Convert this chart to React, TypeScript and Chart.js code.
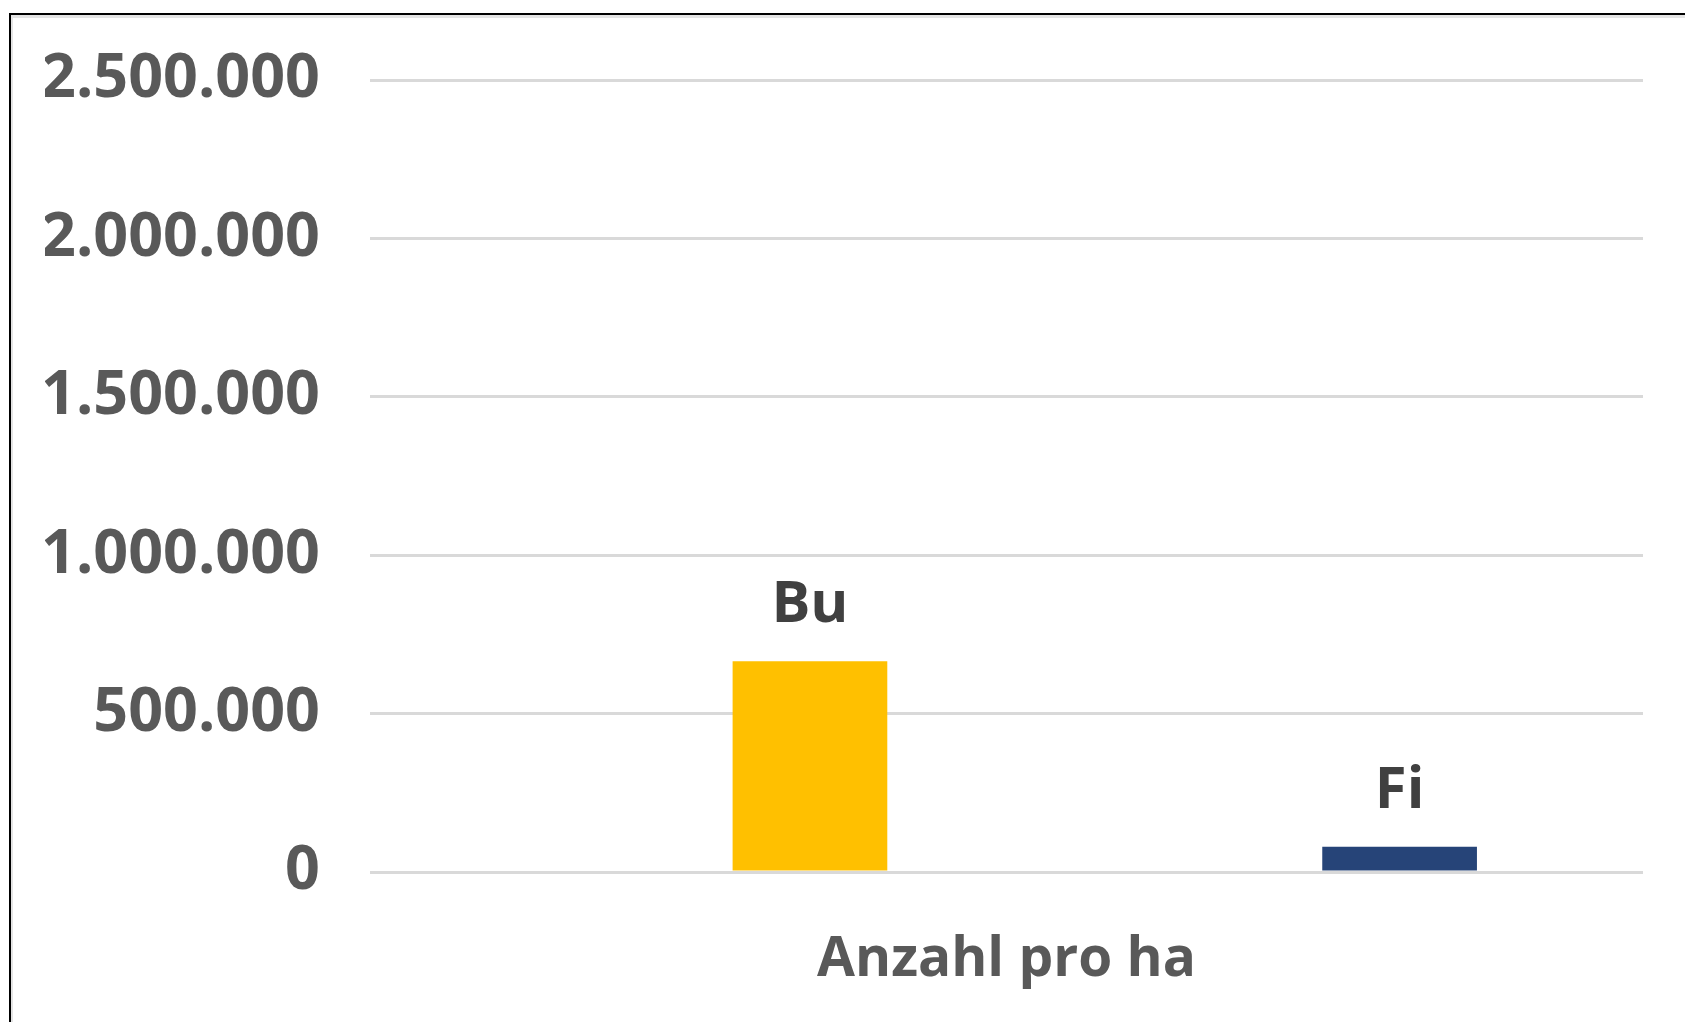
import React, { useEffect, useRef } from "react";
import { Chart, registerables } from "chart.js";

Chart.register(...registerables);

const categories = ["Anzahl pro ha"];
const seriesNames = ["", "Bu", "", "", "Fi"];
const seriesValues: (number | null)[] = [null, 665000, null, null, 80000];
const seriesColors = ["#A5A5A5", "#FFC000", "#5B9BD5", "#70AD47", "#264478"];
const yTicks = [0, 500000, 1000000, 1500000, 2000000, 2500000];

const FONT = "'Open Sans', sans-serif";

function fmt(v: number): string {
  return String(Math.round(v)).replace(/\B(?=(\d{3})+(?!\d))/g, ".");
}

const frame = {
  id: "frame",
  beforeDraw(chart: any) {
    const ctx = chart.ctx;
    ctx.save();
    ctx.fillStyle = "#ffffff";
    ctx.fillRect(0, 0, chart.width, chart.height);
    ctx.fillStyle = "#e4e4e4";
    ctx.fillRect(11, 15, chart.width, 3);
    ctx.fillRect(11, 15, 2, chart.height);
    ctx.fillStyle = "#000000";
    ctx.fillRect(9, 13, chart.width, 2);
    ctx.fillRect(9, 13, 2, chart.height);
    ctx.restore();
  },
};

const seriesLabels = {
  id: "seriesLabels",
  afterDatasetsDraw(chart: any) {
    const ctx = chart.ctx;
    ctx.save();
    ctx.font = `bold 58px ${FONT}`;
    ctx.fillStyle = "#404040";
    ctx.textAlign = "center";
    ctx.textBaseline = "alphabetic";
    chart.data.datasets.forEach((ds: any, i: number) => {
      const meta = chart.getDatasetMeta(i);
      meta.data.forEach((el: any, j: number) => {
        const v = ds.data[j];
        if (v === null || v === undefined) return;
        ctx.fillText(ds.label, el.x, el.y - 39);
      });
    });
    ctx.restore();
  },
};

export default function App() {
  const ref = useRef<HTMLCanvasElement | null>(null);
  useEffect(() => {
    document.body.style.margin = "0";
    const canvas = ref.current;
    if (!canvas) return;
    let chart: any = null;
    let cancelled = false;
    const make = () => {
      if (cancelled) return;
      chart = new Chart(canvas, {
        type: "bar",
        data: {
          labels: categories,
          datasets: seriesNames.map((name, i) => ({
            label: name,
            data: [seriesValues[i]],
            backgroundColor: seriesColors[i],
            barPercentage: 0.787,
            categoryPercentage: 0.772,
          })),
        },
        options: {
          animation: false,
          responsive: false,
          maintainAspectRatio: false,
          layout: { padding: { left: 45, right: 42, top: 80, bottom: 0 } },
          plugins: {
            legend: { display: false },
            tooltip: { enabled: false },
            title: { display: false },
          },
          scales: {
            x: {
              grid: { display: false, drawTicks: false },
              border: { display: false },
              afterFit(axis: any) {
                axis.height = 150;
                axis.paddingLeft = 0;
                axis.paddingRight = 0;
              },
              ticks: {
                color: "#595959",
                font: { family: FONT, size: 55, weight: "bold" },
                padding: 55,
              },
            },
            y: {
              min: 0,
              max: 2500000,
              afterBuildTicks(axis: any) {
                axis.ticks = yTicks.map((v) => ({ value: v }));
              },
              afterFit(axis: any) {
                axis.width = 325;
                axis.paddingTop = 0;
                axis.paddingBottom = 0;
              },
              grid: { color: "#d9d9d9", lineWidth: 3, drawTicks: false },
              border: { display: false },
              ticks: {
                color: "#595959",
                font: { family: FONT, size: 61, weight: "bold" },
                padding: 50,
                callback: (v: any) => fmt(Number(v)),
              },
            },
          },
        },
        plugins: [frame, seriesLabels],
      });
    };
    const fonts: any = (document as any).fonts;
    if (fonts && fonts.load) {
      Promise.all([
        fonts.load(`bold 61px 'Open Sans'`),
        fonts.load(`bold 55px 'Open Sans'`),
      ])
        .catch(() => null)
        .then(make);
    } else {
      make();
    }
    return () => {
      cancelled = true;
      if (chart) chart.destroy();
    };
  }, []);
  return (
    <div style={{ width: 1685, height: 1022, overflow: "hidden" }}>
      <canvas ref={ref} width={1685} height={1022} style={{ display: "block" }} />
    </div>
  );
}
